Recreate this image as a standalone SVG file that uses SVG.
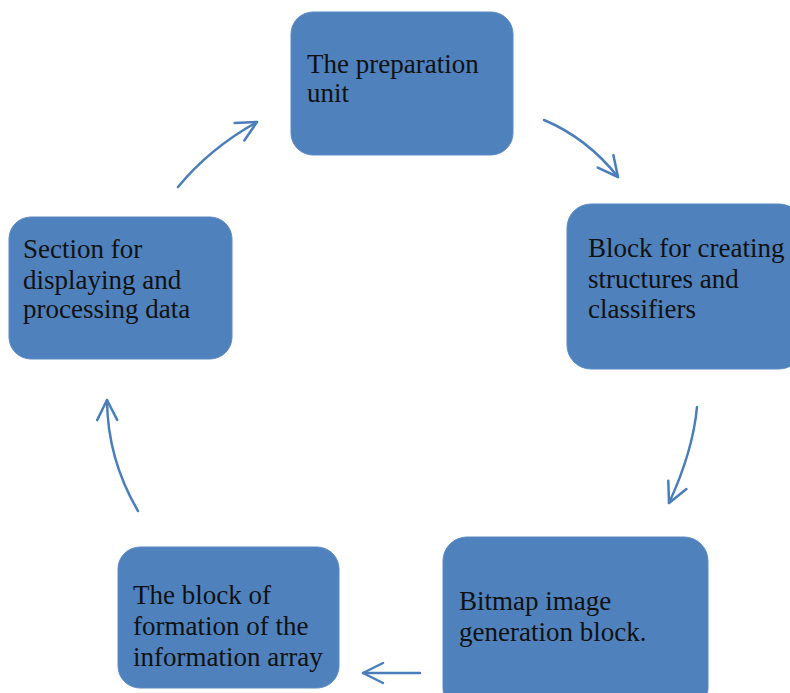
<svg xmlns="http://www.w3.org/2000/svg" width="790" height="693" viewBox="0 0 790 693">
<style>
.box{fill:#4f81bd;stroke:#5a8ac4;stroke-width:1}
.lbl{font-family:"Liberation Serif","Times New Roman",serif;font-size:27px;fill:#111}
.conn{fill:none;stroke:#4a7ebb;stroke-width:2.5;stroke-linecap:round}
</style>
<defs>
<marker id="ah" markerUnits="userSpaceOnUse" viewBox="-22 -14 26 28" markerWidth="26" markerHeight="28" refX="0" refY="0" orient="auto" overflow="visible">
<path d="M-20,-10 L0,0 L-20,10" fill="none" stroke="#4a7ebb" stroke-width="2.5" stroke-linecap="round" stroke-linejoin="round"/>
</marker>
</defs>
<rect width="790" height="693" fill="#ffffff"/>
<g id="connectors">
<path class="conn" d="M544,120 Q587,138 618,177" marker-end="url(#ah)"/>
<path class="conn" d="M697,407 Q693,451 669,503" marker-end="url(#ah)"/>
<path class="conn" d="M420,673 L363,673" marker-end="url(#ah)"/>
<path class="conn" d="M138,511 Q107.5,459 107,400" marker-end="url(#ah)"/>
<path class="conn" d="M178,187 Q210,148 257,122" marker-end="url(#ah)"/>
</g>
<g id="node-preparation">
<rect class="box" x="291" y="12" width="222" height="143" rx="22"/>
<text class="lbl" x="307" y="73">The preparation</text>
<text class="lbl" x="307" y="102">unit</text>
</g>
<g id="node-structures">
<rect class="box" x="567" y="204" width="236" height="165" rx="24"/>
<text class="lbl" x="588" y="257">Block for creating</text>
<text class="lbl" x="588" y="288">structures and</text>
<text class="lbl" x="588" y="318">classifiers</text>
</g>
<g id="node-bitmap">
<rect class="box" x="443" y="537" width="265" height="175" rx="24"/>
<text class="lbl" x="459" y="610">Bitmap image</text>
<text class="lbl" x="459" y="641">generation block.</text>
</g>
<g id="node-array">
<rect class="box" x="118" y="547" width="221" height="141" rx="22"/>
<text class="lbl" x="133" y="604">The block of</text>
<text class="lbl" x="133" y="635">formation of the</text>
<text class="lbl" x="133" y="666">information array</text>
</g>
<g id="node-display">
<rect class="box" x="9" y="217" width="223" height="142" rx="22"/>
<text class="lbl" x="23" y="258">Section for</text>
<text class="lbl" x="23" y="289">displaying and</text>
<text class="lbl" x="23" y="318">processing data</text>
</g>
</svg>
